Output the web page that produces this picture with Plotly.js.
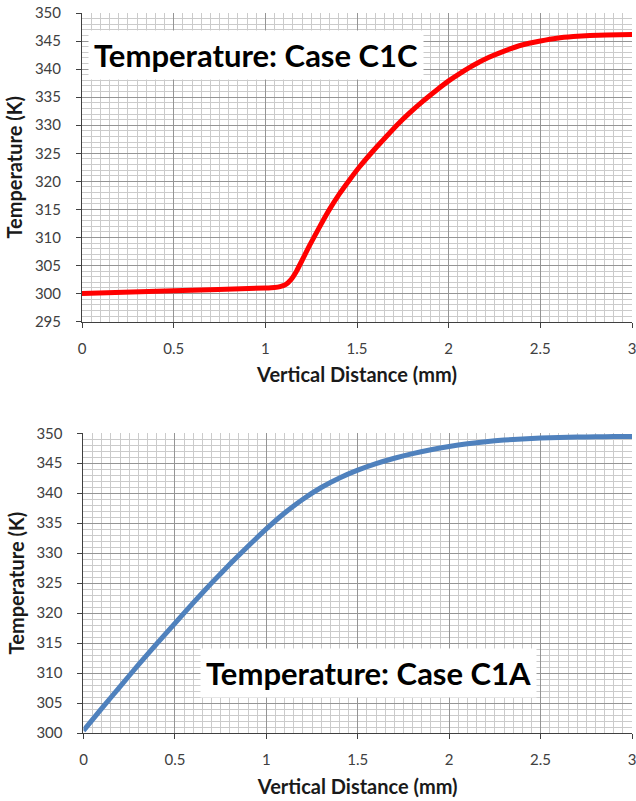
<!DOCTYPE html>
<html>
<head>
<meta charset="utf-8">
<script src="https://cdn.plot.ly/plotly-3.0.1.min.js"></script>
<style>
html,body{margin:0;padding:0;background:#fff;}
#chart{width:636px;height:801px;}
</style>
</head>
<body>
<div id="chart"></div>
<script>
// Case C1C (top chart)
var c1cDistance = [0, 0.5, 1.0, 1.05, 1.08, 1.11, 1.14, 1.17, 1.2, 1.24, 1.296, 1.35, 1.405, 1.46, 1.514, 1.59, 1.66, 1.72, 1.787, 1.86, 1.932, 2.0, 2.06, 2.13, 2.22, 2.31, 2.40, 2.50, 2.59, 2.68, 2.77, 2.86, 3.0];
var c1cTemperature = [300.0, 300.5, 301.0, 301.1, 301.25, 301.6, 302.5, 304.0, 305.9, 308.5, 311.9, 315.0, 317.8, 320.3, 322.6, 325.5, 328.0, 330.1, 332.2, 334.3, 336.2, 337.9, 339.2, 340.6, 342.1, 343.3, 344.3, 345.0, 345.5, 345.8, 346.0, 346.1, 346.15];

// Case C1A (bottom chart)
var c1aDistance = [0, 0.1, 0.2, 0.3, 0.4, 0.5, 0.6, 0.7, 0.8, 0.9, 1.0, 1.1, 1.2, 1.3, 1.4, 1.5, 1.6, 1.7, 1.8, 1.9, 2.0, 2.1, 2.2, 2.3, 2.4, 2.5, 2.6, 2.7, 2.8, 2.9, 3.0];
var c1aTemperature = [300.4, 304.1, 307.75, 311.35, 314.85, 318.3, 321.7, 325.0, 328.15, 331.15, 334.05, 336.7, 339.0, 340.95, 342.55, 343.85, 344.93, 345.83, 346.6, 347.25, 347.8, 348.25, 348.6, 348.87, 349.06, 349.2, 349.3, 349.37, 349.42, 349.45, 349.47];

var xTickVals = [0, 0.5, 1, 1.5, 2, 2.5, 3];
var xTickText = ['0', '0.5', '1', '1.5', '2', '2.5', '3'];
var xTitle = 'Vertical Distance (mm)';
var yTitle = 'Temperature (K)';
var topLabel = 'Temperature: Case C1C';
var bottomLabel = 'Temperature: Case C1A';

var FONT = 'Lato, "Open Sans", sans-serif';
var majorGrid = '#959595';
var minorGrid = '#cbcbcb';
var axisColor = '#404040';
var tickFont = {family: FONT, size: 15, color: '#404040'};
var titleFont = {family: FONT, size: 20, color: '#1a1a1a', weight: 'bold'};

function xAxis(domain, anchor) {
  return {
    domain: domain, anchor: anchor, range: [0, 3],
    tickmode: 'array', tickvals: xTickVals, ticktext: xTickText,
    showgrid: true, gridcolor: majorGrid, gridwidth: 1,
    minor: {dtick: 0.05, tick0: 0, showgrid: true, gridcolor: minorGrid, gridwidth: 1, ticks: ''},
    showline: true, linecolor: axisColor, linewidth: 1,
    ticks: 'outside', ticklen: 5, tickcolor: axisColor,
    tickfont: tickFont, ticklabelstandoff: 8, ticklabeloverflow: 'allow',
    zeroline: false,
    title: {text: xTitle, font: titleFont, standoff: 12}
  };
}
function yAxis(domain, anchor, range, tick0) {
  return {
    domain: domain, anchor: anchor, range: range,
    tick0: tick0, dtick: 5,
    showgrid: true, gridcolor: majorGrid, gridwidth: 1,
    minor: {dtick: 1, showgrid: true, gridcolor: minorGrid, gridwidth: 1, ticks: ''},
    showline: true, linecolor: axisColor, linewidth: 1,
    ticks: 'outside', ticklen: 5, tickcolor: axisColor,
    tickfont: tickFont, ticklabelstandoff: 12, ticklabeloverflow: 'allow',
    zeroline: false,
    title: {text: yTitle, font: titleFont, standoff: 6}
  };
}

var data = [
  {x: c1cDistance, y: c1cTemperature, xaxis: 'x', yaxis: 'y', mode: 'lines',
   line: {color: '#ff0000', width: 5, shape: 'spline', smoothing: 0.5}, showlegend: false, hoverinfo: 'skip'},
  {x: c1aDistance, y: c1aTemperature, xaxis: 'x2', yaxis: 'y2', mode: 'lines',
   line: {color: '#4f81bd', width: 5, shape: 'spline', smoothing: 0.5}, showlegend: false, hoverinfo: 'skip'}
];

var layout = {
  width: 636, height: 801,
  margin: {l: 82, r: 4, t: 13, b: 68},
  paper_bgcolor: '#ffffff', plot_bgcolor: '#ffffff',
  font: {family: FONT},
  showlegend: false,
  xaxis: xAxis([0, 1], 'y'),
  yaxis: yAxis([0.5713, 1], 'x', [295, 350], 295),
  xaxis2: xAxis([0.0027, 1], 'y2'),
  yaxis2: yAxis([0, 0.4163], 'x2', [300, 350], 300),
  annotations: [
    {text: topLabel, xref: 'x', yref: 'y', x: 0.947, y: 342.6, showarrow: false,
     font: {family: FONT, size: 31, color: '#000000', weight: 'bold'},
     bgcolor: '#ffffff', borderpad: 5, xanchor: 'center', yanchor: 'middle'},
    {text: bottomLabel, xref: 'x2', yref: 'y2', x: 1.56, y: 310.05, showarrow: false,
     font: {family: FONT, size: 31, color: '#000000', weight: 'bold'},
     bgcolor: '#ffffff', borderpad: 5, xanchor: 'center', yanchor: 'middle'}
  ]
};

Plotly.newPlot('chart', data, layout, {staticPlot: true, displayModeBar: false});
</script>
</body>
</html>
